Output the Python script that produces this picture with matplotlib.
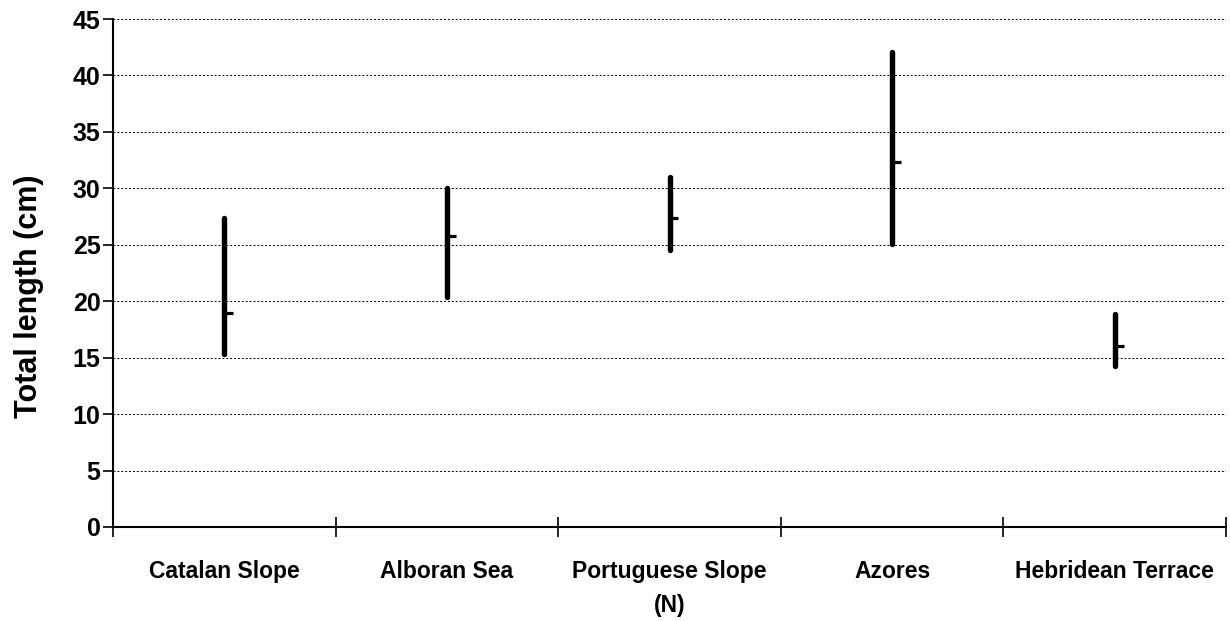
import numpy as np
import matplotlib
matplotlib.use("Agg")
import matplotlib.pyplot as plt

# size range per area: minimum, maximum and mean total length
areas = ["Catalan Slope", "Alboran Sea", "Portuguese Slope", "Azores", "Hebridean Terrace"]
low = [15.3, 20.4, 24.5, 25.1, 14.3]
high = [27.4, 30.0, 31.0, 42.1, 18.9]
mean = [19.0, 25.8, 27.4, 32.3, 16.0]

plt.rcParams['font.family'] = ['Liberation Sans', 'DejaVu Sans']
plt.rcParams['font.weight'] = 'bold'

fig = plt.figure(figsize=(12.3, 6.21), dpi=100)
ax = fig.add_axes([0.0919, 0.1514, 0.9049, 0.818])

x = np.arange(len(areas)) + 0.5

for xi, lo, hi in zip(x, low, high):
    ax.plot([xi, xi], [lo, hi], color='black', lw=3.9, solid_capstyle='round', zorder=3)
ax.hlines(mean, x, x + 0.04, color='black', lw=2.3, zorder=3)

ax.set_xlim(0, len(areas))
ax.set_ylim(0, 45)
ax.set_yticks(np.arange(0, 46, 5))
ax.set_xticks(np.arange(0, len(areas) + 1))
ax.set_xticklabels([])
ax.set_xticks(x, minor=True)
ax.set_xticklabels(areas, minor=True, fontsize=16.5, fontweight='bold')

ax.yaxis.grid(True, color='black', lw=0.7, linestyle=(0, (2, 2)))
ax.set_axisbelow(True)

for s in ['top', 'right']:
    ax.spines[s].set_visible(False)
for s in ['left', 'bottom']:
    ax.spines[s].set_linewidth(1.5)

ax.tick_params(axis='y', direction='out', length=7, width=1.2, labelsize=18, pad=2)
ax.tick_params(axis='x', which='major', direction='inout', length=14, width=1.2)
ax.tick_params(axis='x', which='minor', length=0, pad=24)

ax.set_ylabel("Total length (cm)", fontsize=22, fontweight='bold')
ax.yaxis.set_label_coords(-0.062, 0.455)
ax.set_xlabel("(N)", fontsize=16.5, fontweight='bold', labelpad=8)

fig.savefig("out.png", dpi=100)
